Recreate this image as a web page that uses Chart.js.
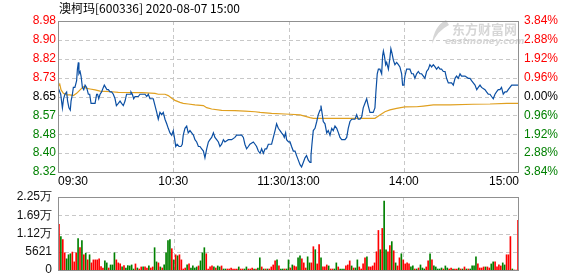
<!DOCTYPE html>
<html><head><meta charset="utf-8">
<script src="https://cdn.jsdelivr.net/npm/chart.js@4/dist/chart.umd.min.js"></script>
<style>
html,body{margin:0;padding:0;background:#fff;width:578px;height:276px;overflow:hidden}
#c1{position:absolute;left:0;top:0}
#c2{position:absolute;left:0;top:190px}
</style></head><body>
<canvas id="c1" width="578" height="190"></canvas>
<canvas id="c2" width="578" height="86"></canvas>
<script>
const title = '澳柯玛[600336] 2020-08-07 15:00';
const prevClose = 8.65;
const maxPct = 3.84;
const priceTickLabels = ['8.98','8.90','8.82','8.73','8.65','8.57','8.48','8.40','8.32'];
const pctTickLabels = ['3.84%','2.88%','1.92%','0.96%','0.00%','0.96%','1.92%','2.88%','3.84%'];
const timeTickMinutes = [0,60,120,180,240];
const timeTickLabels = ['09:30','10:30','11:30/13:00','14:00','15:00'];
const volTickValues = [0,5621,11242,16863,22484];
const volTickLabels = ['0','5621','1.12万','1.69万','2.25万'];

const priceMinute = [0,1.4,2.3,2.9,3.6,4.5,5.0,5.7,6.4,6.8,7.5,8.0,8.8,9.7,10.1,10.6,10.9,11.5,12.0,12.7,13.4,14.1,14.9,15.8,16.5,17.2,18.4,19.3,20.1,20.6,21.2,21.9,22.7,23.6,24.1,24.8,25.5,26.2,27.1,27.9,28.8,29.7,30.4,31.4,32.3,33.1,34.0,34.9,35.7,36.6,37.5,38.0,38.7,39.4,40.1,41.8,42.7,43.6,44.4,45.3,46.2,47.0,47.9,49.6,50.5,51.4,52.2,53.1,54.0,54.8,55.7,56.6,57.4,58.3,59.2,60.0,60.6,61.3,62.0,63.0,64.0,64.7,65.2,66.1,67.0,67.8,68.7,69.6,70.5,71.3,72.2,73.1,73.9,74.8,75.7,76.5,77.4,78.3,79.1,80.0,80.9,81.7,82.6,83.5,84.3,85.2,86.1,86.9,88.7,90.4,92.1,93.0,94.7,95.6,96.5,97.3,98.2,99.1,99.9,101.7,102.6,103.4,104.3,105.2,106.0,106.9,107.8,108.6,109.5,111.2,112.1,113.0,113.8,114.7,115.6,116.4,117.3,117.8,118.5,119.0,120.0,
120.8,121.6,122.5,123.4,124.2,125.1,126.0,126.8,127.7,128.6,129.4,130.3,131.2,131.7,132.2,132.9,133.8,134.7,135.5,136.4,136.9,137.6,138.1,139.0,139.9,140.7,141.6,142.5,143.3,144.2,145.1,146.0,146.8,147.7,148.5,149.4,150.3,151.1,152.0,152.9,153.7,154.6,155.5,156.3,157.2,158.1,158.9,159.8,160.7,161.5,162.4,163.3,164.1,165.0,165.5,166.2,166.8,167.6,168.5,169.0,169.4,169.9,170.6,171.1,172.0,172.8,173.3,173.9,174.6,175.4,176.3,177.2,178.0,178.9,179.4,180.1,180.6,181.5,182.4,183.2,184.1,185.0,185.8,186.7,187.6,188.4,189.3,190.2,191.0,191.9,192.8,193.6,194.5,195.4,196.3,197.1,198.0,198.9,199.7,200.6,201.5,202.3,203.2,204.9,205.8,206.7,207.5,208.4,209.3,210.1,211.9,213.6,214.5,215.3,216.2,217.1,218.0,218.8,219.7,220.5,222.3,223.1,224.0,224.9,225.7,226.6,227.5,228.3,229.2,230.1,230.9,231.8,232.7,233.6,234.4,235.3,236.2,240];
const price = [8.69,8.66,8.60,8.64,8.66,8.67,8.63,8.60,8.59,8.63,8.66,8.69,8.69,8.72,8.77,8.80,8.75,8.76,8.74,8.69,8.68,8.70,8.69,8.66,8.66,8.62,8.62,8.62,8.66,8.66,8.64,8.66,8.67,8.69,8.70,8.69,8.68,8.68,8.67,8.67,8.66,8.64,8.61,8.62,8.63,8.62,8.61,8.63,8.66,8.66,8.66,8.67,8.66,8.64,8.65,8.65,8.66,8.66,8.66,8.66,8.65,8.66,8.64,8.64,8.61,8.58,8.55,8.58,8.57,8.58,8.55,8.53,8.51,8.49,8.48,8.50,8.47,8.43,8.44,8.43,8.43,8.44,8.48,8.51,8.52,8.49,8.50,8.49,8.48,8.46,8.45,8.43,8.43,8.42,8.41,8.38,8.42,8.45,8.46,8.47,8.49,8.47,8.46,8.45,8.43,8.44,8.46,8.45,8.46,8.46,8.47,8.48,8.48,8.48,8.47,8.44,8.42,8.43,8.44,8.45,8.44,8.43,8.41,8.40,8.42,8.40,8.42,8.42,8.44,8.44,8.47,8.50,8.53,8.51,8.50,8.49,8.48,8.47,8.49,8.46,8.45,
8.45,8.43,8.41,8.41,8.39,8.37,8.35,8.34,8.36,8.38,8.39,8.37,8.36,8.39,8.44,8.50,8.51,8.54,8.57,8.59,8.61,8.57,8.54,8.53,8.49,8.50,8.48,8.51,8.50,8.52,8.51,8.49,8.47,8.46,8.46,8.46,8.47,8.51,8.54,8.55,8.55,8.55,8.57,8.55,8.55,8.56,8.60,8.62,8.64,8.61,8.58,8.58,8.58,8.60,8.67,8.75,8.77,8.77,8.75,8.83,8.85,8.83,8.79,8.80,8.77,8.82,8.86,8.84,8.81,8.79,8.80,8.79,8.78,8.75,8.70,8.70,8.74,8.77,8.77,8.77,8.75,8.75,8.73,8.75,8.76,8.75,8.75,8.74,8.73,8.76,8.77,8.79,8.78,8.79,8.78,8.77,8.78,8.77,8.77,8.76,8.76,8.73,8.71,8.71,8.70,8.73,8.74,8.73,8.75,8.74,8.74,8.73,8.73,8.72,8.71,8.70,8.68,8.69,8.70,8.69,8.68,8.67,8.66,8.66,8.65,8.64,8.66,8.67,8.68,8.68,8.69,8.66,8.67,8.67,8.68,8.69,8.70,8.70];

const avgMinute = [0,0.9,1.6,2.8,4.5,6.2,8.0,9.7,11.5,13.2,14.9,16.7,19.3,21.9,27.9,31.4,43.6,50.5,52.2,55.7,57.4,59.2,60.9,63.5,65.2,67.8,71.3,75.7,77.4,80.0,85.2,92.1,97.3,102.6,105.2,111.2,118.2,120.8,126.0,131.2,132.9,138.1,146.8,155.5,165.0,167.6,170.2,172.8,176.3,180.6,186.7,190.2,195.4,204.1,216.2,224.9,233.6,240];
const avgPrice = [8.693,8.705,8.679,8.664,8.657,8.657,8.654,8.664,8.679,8.693,8.686,8.683,8.679,8.674,8.671,8.668,8.667,8.664,8.660,8.660,8.654,8.642,8.633,8.624,8.620,8.617,8.613,8.610,8.601,8.595,8.589,8.588,8.586,8.583,8.580,8.576,8.573,8.572,8.569,8.557,8.554,8.554,8.554,8.554,8.554,8.569,8.583,8.591,8.598,8.604,8.605,8.608,8.613,8.613,8.616,8.617,8.620,8.620];

const volume = [
14050,10300,9370,5300,3440,4690,5000,5520,2500,5300,
9680,6870,9060,4690,5200,3120,4690,2190,3120,3120,
3120,3440,1040,620,2810,2190,620,1560,1560,5300,
3120,2190,1870,940,1350,620,1350,1250,1560,310,
1870,620,310,940,940,940,620,1250,620,940,
6870,2500,2190,940,620,1560,5300,9060,9370,6560,
3120,4690,4370,4690,3120,310,620,1560,1870,620,
1250,620,940,1250,2810,5300,6870,5000,310,940,
1250,940,620,1250,940,1250,310,310,310,310,
620,310,310,310,940,310,310,310,940,310,
310,620,310,310,620,3750,940,310,310,310,
310,940,1560,2810,3120,1250,310,310,310,310,
3120,620,1560,1250,940,3750,4370,3440,2190,620,
4060,2190,2190,7180,6250,1870,7810,3750,940,940,
1560,1250,310,310,310,2190,940,310,310,310,
1250,1560,2810,1250,620,620,3120,940,310,1870,
3750,4060,940,940,1250,2190,5620,12180,6250,12800,
21240,6250,5620,7500,8740,5930,2190,1250,3750,5000,
3120,1870,2190,1870,940,1250,310,310,620,1560,
620,310,940,2810,5000,3120,1250,940,310,310,
620,310,1250,620,310,620,310,310,310,620,
310,310,940,310,310,310,1250,1250,4060,1870,
620,620,940,940,940,620,1870,2500,2500,940,
1560,1250,2190,1560,4690,4690,10300,310,0,0,
15300];
const volDir = (
'RGRRGGGRRR'+'GRGRGRGRRR'+'RRRRGGRGGG'+'RRRGRGGGGG'+'RGRRGRRGRR'+'GGRGRGGGGR'+
'GRGRRRRGRG'+'GGGRGGGRRR'+'RGRGGRGGRR'+'RRRRGRRGGR'+'RRGRGGRGRG'+'RRRRGRGGRG'+
'GRGRRGGRRR'+'GGRRGRRGRR'+'RGRRGGRGGG'+'RRRGRGGRRR'+'RGRRRRRRGR'+'GGRRGRGRRG'+
'RRRRGGRGRG'+'GGRRGRGGGG'+'GRGGRRGRRG'+'RGRGRGGGGR'+'RRRGRRGGRR'+'RRGGRRRGRR'+'R').split('');

const RED = '#ff0000', GREEN = '#008000', GRID = '#c8c8c8', FRAME = '#909090';
const NUM_FONT = '12px "Liberation Sans", Arial, sans-serif';

function dashedH(ctx, x1, x2, y) {
  ctx.beginPath(); ctx.moveTo(x1, Math.round(y) + 0.5); ctx.lineTo(x2, Math.round(y) + 0.5); ctx.stroke();
}
function dashedV(ctx, x, y1, y2) {
  ctx.beginPath(); ctx.moveTo(Math.round(x) + 0.5, y1); ctx.lineTo(Math.round(x) + 0.5, y2); ctx.stroke();
}

const yMin = prevClose * (1 - maxPct / 100), yMax = prevClose * (1 + maxPct / 100);

const mainPlugin = {
  id: 'mainDeco',
  beforeDatasetsDraw(chart) {
    const {ctx, chartArea: a, scales: {x, y}} = chart;
    ctx.save();
    ctx.strokeStyle = GRID; ctx.lineWidth = 1; ctx.setLineDash([4, 3]);
    for (let k = 1; k < priceTickLabels.length - 1; k++) {
      const v = yMax - k * (yMax - yMin) / (priceTickLabels.length - 1);
      dashedH(ctx, a.left, a.right, y.getPixelForValue(v));
    }
    for (let k = 1; k < timeTickMinutes.length - 1; k++) dashedV(ctx, x.getPixelForValue(timeTickMinutes[k]), a.top, a.bottom);
    ctx.setLineDash([]);
    // watermark
    ctx.fillStyle = '#d6d6d6';
    ctx.font = 'bold 13px "Noto Sans CJK SC", sans-serif';
    ctx.textBaseline = 'middle'; ctx.textAlign = 'left';
    ctx.fillText('东方财富网', 452, 29);
    ctx.font = 'italic bold 9px "DejaVu Sans", sans-serif';
    ctx.fillText('eastmoney.com', 445, 42);
    ctx.beginPath();
    ctx.moveTo(446, 20); ctx.quadraticCurveTo(434, 26, 432, 44); ctx.quadraticCurveTo(437, 31, 449, 25); ctx.closePath(); ctx.fill();
    ctx.restore();
  },
  afterDraw(chart) {
    const {ctx, chartArea: a, scales: {x, y}} = chart;
    ctx.save();
    ctx.strokeStyle = FRAME; ctx.lineWidth = 1;
    ctx.strokeRect(a.left + 0.5, a.top + 0.5, a.right - a.left - 1, a.bottom - a.top);
    ctx.font = NUM_FONT; ctx.textBaseline = 'middle';
    const n = priceTickLabels.length, mid = (n - 1) / 2;
    for (let k = 0; k < n; k++) {
      const v = yMax - k * (yMax - yMin) / (n - 1);
      const py = y.getPixelForValue(v);
      ctx.fillStyle = k < mid ? RED : (k === mid ? '#000' : GREEN);
      ctx.textAlign = 'right'; ctx.fillText(priceTickLabels[k], a.left - 2, py);
      ctx.textAlign = 'left'; ctx.fillText(pctTickLabels[k], a.right + 5, py);
    }
    ctx.fillStyle = '#000';
    for (let k = 0; k < timeTickMinutes.length; k++) {
      ctx.textAlign = k === 0 ? 'left' : (k === timeTickMinutes.length - 1 ? 'right' : 'center');
      ctx.fillText(timeTickLabels[k], x.getPixelForValue(timeTickMinutes[k]), a.bottom + 10);
    }
    ctx.font = '12px "Noto Sans CJK SC", sans-serif';
    ctx.textAlign = 'left';
    ctx.fillText(title, a.left + 1, 8);
    ctx.restore();
  }
};

new Chart(document.getElementById('c1'), {
  type: 'line',
  data: {
    datasets: [
      {data: priceMinute.map((m, i) => ({x: m, y: price[i]})), borderColor: '#0b4fa3', borderWidth: 1.2, pointRadius: 0, tension: 0},
      {data: avgMinute.map((m, i) => ({x: m, y: avgPrice[i]})), borderColor: '#e0a020', borderWidth: 1.2, pointRadius: 0, tension: 0}
    ]
  },
  options: {
    responsive: false, animation: false, devicePixelRatio: 1,
    layout: {padding: {left: 58, top: 21, right: 59, bottom: 18}},
    plugins: {legend: {display: false}, tooltip: {enabled: false}},
    scales: {
      x: {type: 'linear', min: 0, max: 240, display: false},
      y: {type: 'linear', min: yMin, max: yMax, display: false}
    }
  },
  plugins: [mainPlugin]
});

const volPlugin = {
  id: 'volDeco',
  beforeDatasetsDraw(chart) {
    const {ctx, chartArea: a, scales: {x, y}} = chart;
    ctx.save();
    ctx.strokeStyle = GRID; ctx.lineWidth = 1; ctx.setLineDash([4, 3]);
    for (let k = 1; k < volTickValues.length - 1; k++) dashedH(ctx, a.left, a.right, y.getPixelForValue(volTickValues[k]));
    for (let k = 1; k < timeTickMinutes.length - 1; k++) dashedV(ctx, x.getPixelForValue(timeTickMinutes[k]), a.top, a.bottom);
    ctx.restore();
  },
  afterDraw(chart) {
    const {ctx, chartArea: a, scales: {y}} = chart;
    ctx.save();
    ctx.strokeStyle = FRAME; ctx.lineWidth = 1;
    ctx.strokeRect(a.left + 0.5, a.top + 0.5, a.right - a.left - 1, a.bottom - a.top);
    ctx.font = NUM_FONT; ctx.textBaseline = 'middle'; ctx.textAlign = 'right';
    ctx.fillStyle = '#111';
    for (let k = 0; k < volTickValues.length; k++) ctx.fillText(volTickLabels[k], a.left - 6, y.getPixelForValue(volTickValues[k]));
    ctx.restore();
  }
};

new Chart(document.getElementById('c2'), {
  type: 'bar',
  data: {
    datasets: [{
      data: volume.map((v, i) => ({x: i, y: v})),
      backgroundColor: volDir.map(d => d === 'R' ? RED : GREEN),
      barThickness: 1, borderWidth: 0
    }]
  },
  options: {
    responsive: false, animation: false, devicePixelRatio: 1,
    layout: {padding: {left: 58, top: 7, right: 59, bottom: 6}},
    plugins: {legend: {display: false}, tooltip: {enabled: false}},
    scales: {
      x: {type: 'linear', min: -0.5, max: volume.length - 0.5, display: false, offset: false},
      y: {type: 'linear', min: 0, max: volTickValues[volTickValues.length - 1], display: false}
    }
  },
  plugins: [volPlugin]
});
</script>
</body></html>
